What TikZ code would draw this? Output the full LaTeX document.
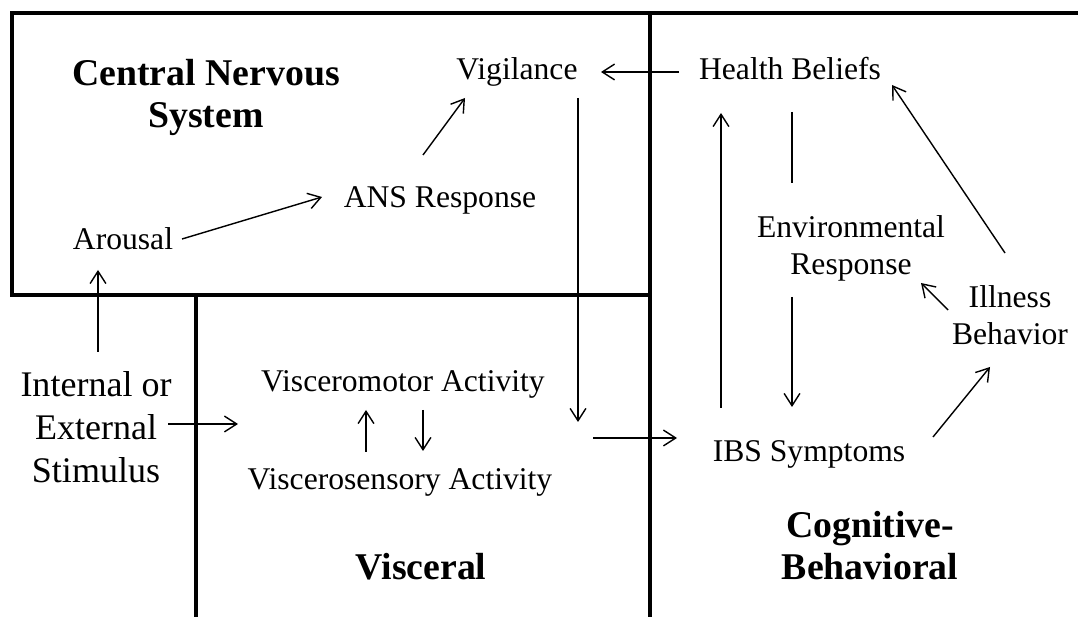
\documentclass[tikz,border=0pt]{standalone}
\usepackage{fontspec}
\setmainfont{Liberation Serif}
\usetikzlibrary{arrows.meta}

\begin{document}
\begin{tikzpicture}[
  x=0.02cm, y=-0.02cm,
  >={Straight Barb[length=7pt,width=9pt]},
  wall/.style={line width=2.3pt, line cap=rect},
  arr/.style={->, line width=0.8pt},
  lbl/.style={font=\fontsize{18}{21.5}\selectfont, align=center,
              inner sep=0pt, anchor=base},
  stim/.style={lbl, font=\fontsize{20.5}{24.7}\selectfont},
  ttl/.style={lbl, font=\fontsize{21.5}{24.4}\selectfont\bfseries},
]
  \useasboundingbox (0,0) rectangle (1078,617);

  %% region borders
  \draw[wall] (1078,13) -- (12,13) -- (12,295) -- (650,295);
  \draw[wall] (650,13) -- (650,617);
  \draw[wall] (196,295) -- (196,617);

  %% Central Nervous System
  \node[ttl] (cns)  at (206,128) {Central Nervous\\System};
  \node[lbl] (vig)  at (517,80)  {Vigilance};
  \node[lbl] (ans)  at (440,208) {ANS Response};
  \node[lbl] (arou) at (123,250) {Arousal};

  %% stimulus and Visceral
  \node[stim] (stim) at (96,483)  {Internal or\\External\\Stimulus};
  \node[lbl] (vmot)  at (403,392) {Visceromotor Activity};
  \node[lbl] (vsen)  at (400,490) {Viscerosensory Activity};
  \node[ttl] (visc)  at (421,580) {Visceral};

  %% Cognitive-Behavioral
  \node[lbl] (hb)   at (790,80)   {Health Beliefs};
  \node[lbl] (env)  at (851,275)  {Environmental\\Response};
  \node[lbl] (ill)  at (1010,345) {Illness\\Behavior};
  \node[lbl] (ibs)  at (809,462)  {IBS Symptoms};
  \node[ttl] (cogb) at (870,580)  {Cognitive-\\Behavioral};

  %% connectors
  \draw[arr] ([shift={(-111,-8)}]hb.base)  -- ([shift={(84,-8)}]vig.base);
  \draw[arr] ([shift={(61,18)}]vig.base)   -- ([shift={(175,30)}]vmot.base);
  \draw[arr] ([shift={(193,-52)}]vsen.base) -- ([shift={(-132,-24)}]ibs.base);
  \draw[arr] ([shift={(-17,-53)}]ans.base) -- ([shift={(-52,18)}]vig.base);
  \draw[arr] ([shift={(59,-11)}]arou.base) -- ([shift={(-118,-11)}]ans.base);
  \draw[arr] ([shift={(2,-131)}]stim.base) -- ([shift={(-25,20)}]arou.base);
  \draw[arr] ([shift={(72,-59)}]stim.base) -- ([shift={(-165,32)}]vmot.base);
  \draw[arr] ([shift={(-34,-38)}]vsen.base) -- ([shift={(-37,18)}]vmot.base);
  \draw[arr] ([shift={(20,18)}]vmot.base)  -- ([shift={(23,-39)}]vsen.base);
  \draw[arr] ([shift={(-88,-54)}]ibs.base) -- ([shift={(-69,33)}]hb.base);
  \draw[line width=0.8pt] ([shift={(2,32)}]hb.base) -- ([shift={(-59,-92)}]env.base);
  \draw[arr] ([shift={(-59,22)}]env.base)  -- ([shift={(-17,-55)}]ibs.base);
  \draw[arr] ([shift={(124,-25)}]ibs.base) -- ([shift={(-20,22)}]ill.base);
  \draw[arr] ([shift={(-62,-35)}]ill.base) -- ([shift={(70,8)}]env.base);
  \draw[arr] ([shift={(-5,-92)}]ill.base)  -- ([shift={(102,5)}]hb.base);
\end{tikzpicture}
\end{document}
